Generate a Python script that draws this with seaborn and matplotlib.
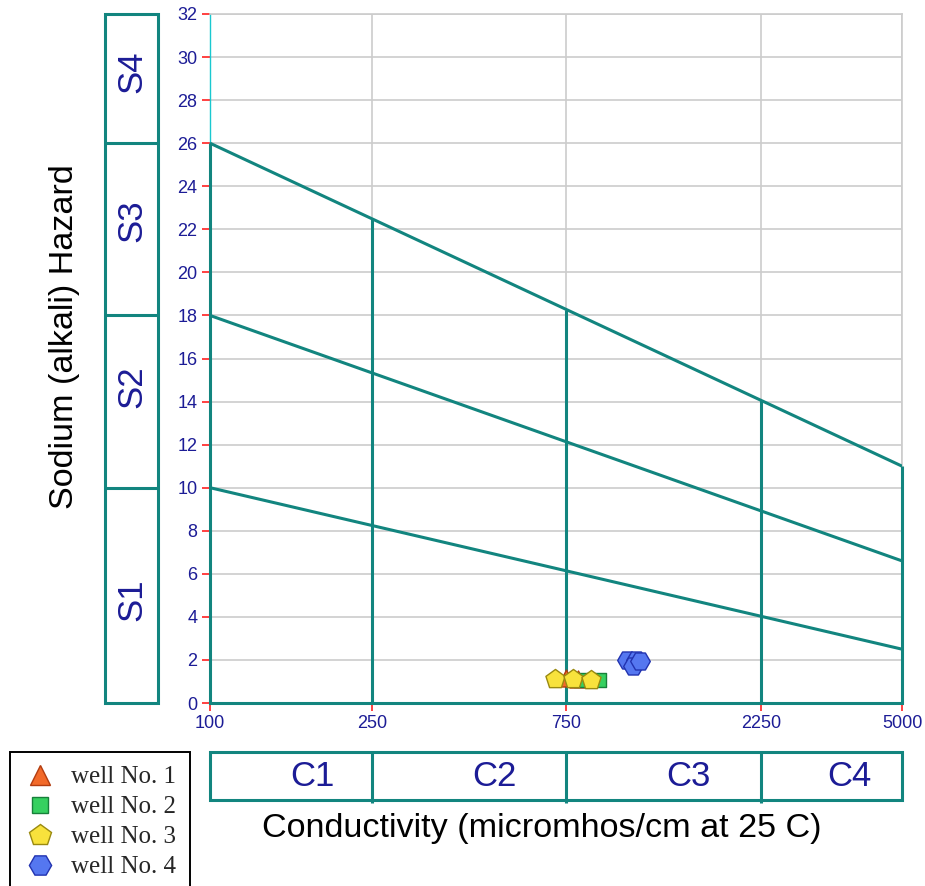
import numpy as np
import pandas as pd
import matplotlib
matplotlib.use("Agg")
import matplotlib.pyplot as plt
from matplotlib.lines import Line2D
from matplotlib.ticker import NullLocator, FixedLocator, FixedFormatter
import seaborn as sns

# --- Axis definitions -------------------------------------------------------
ec_ticks = [100, 250, 750, 2250, 5000]          # conductivity class limits
c_classes = ["C1", "C2", "C3", "C4"]
sar_ticks = list(range(0, 33, 2))
s_bounds = [0, 10, 18, 26, 32]                   # sodium class limits at EC=100
s_classes = ["S1", "S2", "S3", "S4"]

# Sodium hazard class boundary lines (value at EC=100 and at EC=5000)
line_ec = [100, 5000]
s1_s2 = [10, 2.5]
s2_s3 = [18, 6.6]
s3_s4 = [26, 11]

# --- Water samples ----------------------------------------------------------
wells = ["well No. 1", "well No. 2", "well No. 3", "well No. 4"]
well1_ec = [749, 802]
well1_sar = [1.15, 1.12]
well2_ec = [816, 903]
well2_sar = [1.05, 1.05]
well3_ec = [704, 780, 863]
well3_sar = [1.12, 1.10, 1.08]
well4_ec = [1058, 1110, 1090, 1140]
well4_sar = [2.02, 2.02, 1.74, 1.95]

samples = pd.DataFrame({
    "EC": well1_ec + well2_ec + well3_ec + well4_ec,
    "SAR": well1_sar + well2_sar + well3_sar + well4_sar,
    "well": ([wells[0]] * len(well1_ec) + [wells[1]] * len(well2_ec)
             + [wells[2]] * len(well3_ec) + [wells[3]] * len(well4_ec)),
})

# marker, face colour, edge colour, scatter size, legend size
styles = {
    wells[0]: ("^", "#f26a2a", "#b23c10", 150, 15),
    wells[1]: ("s", "#36d060", "#17803a", 90, 12),
    wells[2]: ("p", "#f8e23c", "#9a8a10", 210, 16),
    wells[3]: ("H", "#5577f0", "#2233b0", 200, 16),
}

TEAL = "#12857f"
NAVY = "#1c1c96"
GRID = "#cccccc"

sns.set_theme(style="white")
plt.rcParams["font.family"] = ["Liberation Sans", "DejaVu Sans"]

fig = plt.figure(figsize=(9.25, 8.86), dpi=100)
W, H = 925, 886


def fig_rect(x0, y0, x1, y1):
    return [x0 / W, 1 - y1 / H, (x1 - x0) / W, (y1 - y0) / H]


ax = fig.add_axes(fig_rect(210, 14, 902, 703))
ax.set_xscale("log")
ax.set_xlim(ec_ticks[0], ec_ticks[-1])
ax.set_ylim(0, 32)

# light grid
for y in sar_ticks[1:]:
    ax.axhline(y, color=GRID, lw=1.2, zorder=1)
for x in ec_ticks[1:]:
    ax.axvline(x, color=GRID, lw=1.2, zorder=1)

for side in ["top", "right"]:
    ax.spines[side].set_color(GRID)
    ax.spines[side].set_linewidth(1.2)
ax.spines["left"].set_color("#19c8d0")
ax.spines["left"].set_linewidth(1.0)
ax.spines["bottom"].set_color(TEAL)
ax.spines["bottom"].set_linewidth(2.2)
ax.spines["bottom"].set_zorder(3)

# class boundary lines
for line in (s1_s2, s2_s3, s3_s4):
    ax.plot(line_ec, line, color=TEAL, lw=2.2, zorder=3, solid_capstyle="butt")


def top_line(ec):
    t = (np.log10(ec) - np.log10(line_ec[0])) / (np.log10(line_ec[1]) - np.log10(line_ec[0]))
    return s3_s4[0] + t * (s3_s4[1] - s3_s4[0])


for x in ec_ticks:
    ax.plot([x, x], [0, top_line(x)], color=TEAL, lw=2.2, zorder=3,
            solid_capstyle="butt", clip_on=False)

# samples
for w in wells:
    m, fc, ec, s, _ = styles[w]
    sns.scatterplot(data=samples[samples["well"] == w], x="EC", y="SAR", ax=ax,
                    marker=m, color=fc, edgecolor=ec, linewidth=1.0, s=s,
                    legend=False, zorder=5)

ax.set_xlabel("")
ax.set_ylabel("")
ax.xaxis.set_major_locator(FixedLocator(ec_ticks))
ax.xaxis.set_major_formatter(FixedFormatter([str(v) for v in ec_ticks]))
ax.xaxis.set_minor_locator(NullLocator())
ax.set_yticks(sar_ticks)
ax.set_yticklabels([str(v) for v in sar_ticks])
ax.tick_params(axis="both", which="major", direction="out", length=6, width=1.2,
               color="#ff2020", labelcolor=NAVY, labelsize=13, pad=3,
               bottom=True, left=True)

# --- Sodium class column ------------------------------------------------------
s_label_pos = [4.8, 14.7, 22.4, 29.3]
sax = fig.add_axes(fig_rect(105, 14, 158, 703))
sax.set_xlim(0, 1)
sax.set_ylim(0, 32)
sax.axis("off")
sax.add_patch(plt.Rectangle((0, 0), 1, 32, fill=False, ec=TEAL, lw=2.2, clip_on=False))
for b in s_bounds[1:-1]:
    sax.plot([0, 1], [b, b], color=TEAL, lw=2.2, clip_on=False, solid_capstyle="butt")
for lab, yc in zip(s_classes, s_label_pos):
    sax.text(0.5, yc, lab, rotation=90, ha="center", va="center",
             fontsize=25, color=NAVY)

# --- Salinity class row -------------------------------------------------------
cax = fig.add_axes(fig_rect(210, 752, 902, 800))
cax.set_xscale("log")
cax.set_xlim(ec_ticks[0], ec_ticks[-1])
cax.set_ylim(0, 1)
cax.axis("off")
cax.add_patch(plt.Rectangle((ec_ticks[0], 0), ec_ticks[-1] - ec_ticks[0], 1,
                            fill=False, ec=TEAL, lw=2.2, clip_on=False))
for x in ec_ticks[1:-1]:
    cax.plot([x, x], [-0.06, 1], color=TEAL, lw=2.2, clip_on=False, solid_capstyle="butt")
for lab, lo, hi in zip(c_classes, ec_ticks[:-1], ec_ticks[1:]):
    xc = 10 ** (np.log10(lo) + 0.63 * (np.log10(hi) - np.log10(lo)))
    cax.text(xc, 0.48, lab, ha="center", va="center", fontsize=25, color=NAVY)

# --- Axis titles --------------------------------------------------------------
fig.text(65 / W, 1 - 337 / H, "Sodium (alkali) Hazard", rotation=90,
         ha="center", va="center", fontsize=24.6, color="black")
fig.text(542 / W, 1 - 829 / H, "Conductivity (micromhos/cm at 25 C)",
         ha="center", va="center", fontsize=24.6, color="black")

# --- Legend -------------------------------------------------------------------
handles = [Line2D([], [], ls="none", marker=styles[w][0], markersize=styles[w][4],
                  markerfacecolor=styles[w][1], markeredgecolor=styles[w][2],
                  markeredgewidth=1.0) for w in wells]
leg = fig.legend(handles, wells, loc="upper left", bbox_to_anchor=(10 / W, 1 - 752 / H),
                 borderaxespad=0, frameon=True, fancybox=False, framealpha=1,
                 prop={"family": "Liberation Serif", "size": 18},
                 handlelength=1.3, handletextpad=0.6, labelspacing=0.3,
                 borderpad=0.55)
leg.get_frame().set_edgecolor("black")
leg.get_frame().set_linewidth(1.4)

fig.savefig("out.png", dpi=100, facecolor="white")
